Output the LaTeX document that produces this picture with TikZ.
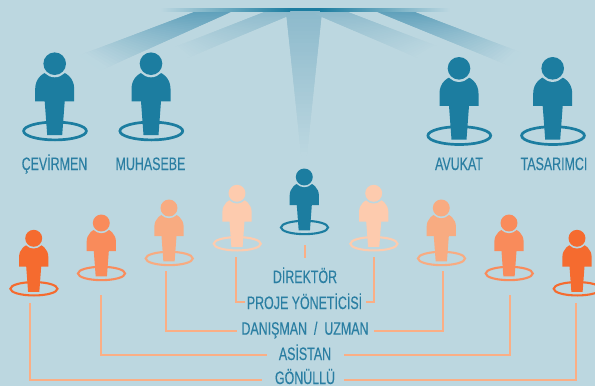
\documentclass[tikz,border=0pt]{standalone}
\usepackage{fontspec}
\usetikzlibrary{calc}
\setmainfont[FakeStretch=0.69,FakeBold=0.2]{Liberation Sans}
\definecolor{bgc}{HTML}{BCD7E0}
\definecolor{teal}{HTML}{1C7DA0}
\definecolor{labc}{HTML}{2A7EA2}
\definecolor{ora}{HTML}{F56B2F}
\definecolor{orb}{HTML}{F98B5B}
\definecolor{orc}{HTML}{F8AB81}
\definecolor{ord}{HTML}{FDCBAE}
\definecolor{conc}{HTML}{FBAE85}
\definecolor{beamc}{HTML}{5FA0BB}
\definecolor{beamd}{HTML}{8DBACC}
\tikzset{
  x=1pt,y=-1pt,
  pcol/.store in=\pcol,pcol=teal,
  pring/.store in=\pring,pring=2.7pt,
  person/.pic={
    \draw[\pcol,line width=\pring] (0.3,67.3) ellipse[x radius=31.4,y radius=8.9];
    \fill[\pcol] (-19.5,37.6) -- (-19.5,25) .. controls (-19.5,15) and (-12,7) .. (0,7)
      .. controls (12,7) and (19.5,15) .. (19.5,25) -- (19.5,37.6) -- (10,37.6)
      -- (7.5,71.3) -- (-7.5,71.3) -- (-10,37.6) -- cycle;
    \fill[bgc] (0,0) circle[radius=13.6];
    \fill[\pcol] (0,0) circle[radius=11.3];
  },
  small/.style={scale=.75,pring=2.1pt},
  lab/.style={font=\fontsize{18}{18}\selectfont,text=labc,inner sep=0pt,anchor=base},
  conn/.style={conc,line width=1.8pt}
}
% near edge A--B, far edge D--C, colour #5: overlapping strips, fading into the background
\newcommand\beamfade[5]{%
  \foreach \i in {0,...,35}{%
    \pgfmathsetmacro\tv{\i/40}%
    \pgfmathsetmacro\tw{(\i+2)/40}%
    \pgfmathsetmacro\pp{max(0,100*(1-\tv/0.88))}%
    \fill[#5!\pp!bgc] ($(#1)!\tv!(#4)$) -- ($(#2)!\tv!(#3)$) -- ($(#2)!\tw!(#3)$) -- ($(#1)!\tw!(#4)$) -- cycle;
  }%
}
\begin{document}
\begin{tikzpicture}
\useasboundingbox (0,0) rectangle (595,386);
\fill[bgc] (0,0) rectangle (595,386);
% beams
\beamfade{197,11}{233,11}{90,75}{70,59}{beamc}
\beamfade{267,11}{300,11}{175,63}{165,51}{beamd}
\beamfade{286,11}{322,11}{305,172}{303,172}{beamd}
\beamfade{345,11}{308,11}{430,63}{447,50}{beamd}
\beamfade{412,11}{375,11}{520,70}{530,56}{beamc}
\fill[left color=bgc,right color=teal] (160,8) rectangle (290,11);
\fill[teal] (289.5,8) rectangle (320.5,11);
\fill[left color=teal,right color=bgc] (320,8) rectangle (450,11);
% persons
\pic at (54.7,63.7) {person};
\pic at (151,63.7) {person};
\pic at (459,68.3) {person};
\pic at (552.7,68.3) {person};
\pic[small] at (304.3,177) {person};
\pic[small,pcol=ord] at (237,193.3) {person};
\pic[small,pcol=ord] at (373.7,193.3) {person};
\pic[small,pcol=orc] at (169,208) {person};
\pic[small,pcol=orc] at (441.3,208) {person};
\pic[small,pcol=orb] at (101.3,223) {person};
\pic[small,pcol=orb] at (509,223) {person};
\pic[small,pcol=ora] at (33.7,238.3) {person};
\pic[small,pcol=ora] at (577,238.3) {person};
% labels
\node[lab] (cev) at (54.5,170) {ÇEVİRMEN};
\node[lab] (muh) at (150.5,170) {MUHASEBE};
\node[lab] (avu) at (459,170) {AVUKAT};
\node[lab] (tas) at (554,170) {TASARIMCI};
\node[lab] (dir) at (305,283) {DİREKTÖR};
\node[lab] (pro) at (304.5,309) {PROJE YÖNETİCİSİ};
\node[lab] (dan) at (305,334.7) {DANIŞMAN\hspace{3.5pt} / \hspace{3.5pt}UZMAN};
\node[lab] (asi) at (305,360) {ASİSTAN};
\node[lab] (gon) at (305,384) {GÖNÜLLÜ};
% connector ends
\coordinate (d0) at (305,245); \coordinate (d1) at (305,258);
\coordinate (pl0) at (236,257.3); \coordinate (pl1) at (245,302);
\coordinate (pr0) at (374,257.3); \coordinate (pr1) at (366,302);
\coordinate (dl0) at (165.7,271); \coordinate (dl1) at (236.7,331.3);
\coordinate (dr0) at (443,271); \coordinate (dr1) at (374,331.3);
\coordinate (al0) at (101,295); \coordinate (al1) at (266.7,354.7);
\coordinate (ar0) at (510,295); \coordinate (ar1) at (344,354.7);
\coordinate (gl0) at (29.7,303.3); \coordinate (gl1) at (261.7,379.7);
\coordinate (gr0) at (576,303.3); \coordinate (gr1) at (344,379.7);
\draw[conn] (d0) -- (d1);
\draw[conn] (pl0) |- (pl1);
\draw[conn] (pr0) |- (pr1);
\draw[conn] (dl0) |- (dl1);
\draw[conn] (dr0) |- (dr1);
\draw[conn] (al0) |- (al1);
\draw[conn] (ar0) |- (ar1);
\draw[conn] (gl0) |- (gl1);
\draw[conn] (gr0) |- (gr1);
\end{tikzpicture}
\end{document}
